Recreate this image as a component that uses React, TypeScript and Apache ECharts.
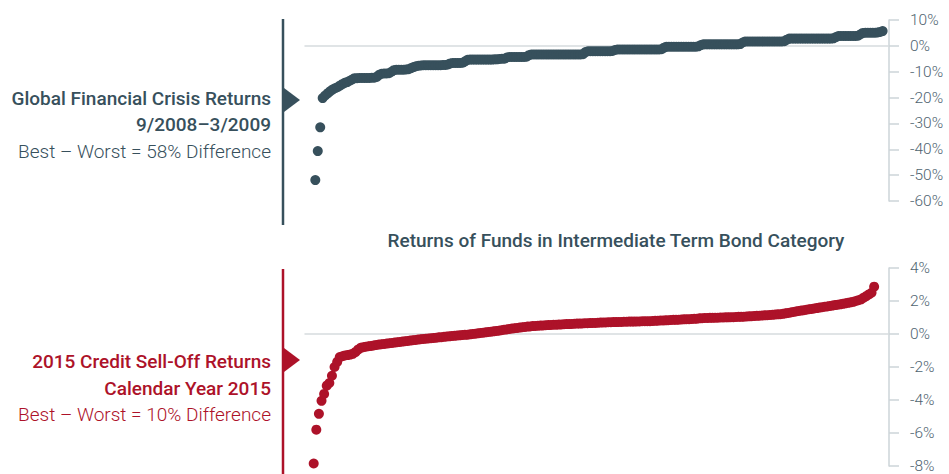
import React, { useEffect, useRef } from "react";
import * as echarts from "echarts";

// Sorted fund returns (%), Global Financial Crisis 9/2008–3/2009
const gfcReturns = [
  -51.9, -40.7, -31.5, -20.2,
  -19.2, -18.4, -17.6, -16.9, -16.4, -16.0, -15.4, -14.8, -14.3, -14.0, -13.5, -13.0,
  -12.5, -12.5, -12.4, -12.4, -12.4, -12.4, -12.4, -12.3, -12.3, -12.0,
  -11.2, -10.8, -10.7, -10.7, -10.6,
  -10.0,
  -9.4, -9.2, -9.2, -9.2, -9.2, -9.1, -9.0,
  -8.6, -8.2, -7.9, -7.7,
  -7.6, -7.5, -7.5, -7.5, -7.5, -7.5, -7.5, -7.5, -7.5, -7.4, -7.4, -7.2,
  -6.8, -6.6, -6.6, -6.6, -6.6, -6.5,
  -6.0,
  -5.4, -5.3, -5.3, -5.3, -5.3, -5.3, -5.3, -5.3, -5.3, -5.3, -5.3, -5.2, -5.2, -5.1, -5.0, -5.0,
  -4.5, -4.3, -4.3, -4.3, -4.3, -4.3, -4.3, -4.3, -4.2,
  -3.6, -3.3, -3.3, -3.3, -3.3, -3.3, -3.3, -3.3, -3.3, -3.3, -3.3, -3.3, -3.3, -3.3, -3.3, -3.3, -3.3, -3.3, -3.3, -3.3, -3.3, -3.3, -3.2,
  -2.4, -2.1, -2.1, -2.1, -2.1, -2.1, -2.1, -2.1, -2.1, -2.1, -2.1, -2.0,
  -1.6, -1.4, -1.4, -1.4, -1.4, -1.4, -1.4, -1.4, -1.4, -1.4, -1.4, -1.4, -1.4, -1.4, -1.4, -1.4, -1.4, -1.4, -1.4, -1.3,
  -0.7, -0.3, -0.3, -0.3, -0.3, -0.3, -0.3, -0.3, -0.3, -0.3, -0.3, -0.3, -0.3, -0.3, -0.2,
  0.3, 0.6, 0.6, 0.6, 0.6, 0.6, 0.6, 0.6, 0.6, 0.6, 0.6, 0.6, 0.6, 0.6, 0.6, 0.6, 0.7,
  1.3, 1.7, 1.7, 1.7, 1.7, 1.7, 1.7, 1.7, 1.7, 1.7, 1.7, 1.7, 1.7, 1.7, 1.7, 1.7, 1.7, 1.8,
  2.4, 2.8, 2.8, 2.8, 2.8, 2.8, 2.8, 2.8, 2.8, 2.8, 2.8, 2.8, 2.8, 2.8, 2.8, 2.8, 2.8, 2.8, 2.8, 2.9,
  3.4, 3.8, 3.8, 3.8, 3.8, 3.8, 3.8, 3.8, 3.8, 3.9,
  4.5,
  5.0, 5.1, 5.1, 5.1, 5.1, 5.1, 5.2,
  5.4, 5.7,
];

// Sorted fund returns (%), calendar year 2015
const creditReturns = [
  -7.85, -5.8, -4.84, -4.05, -3.63, -3.13, -2.97, -2.53, -2.0, -1.69, -1.4,
  -1.35, -1.3, -1.28, -1.25, -1.2, -1.1, -0.95,
  -0.84,
  -0.8, -0.77, -0.74, -0.72, -0.69, -0.66, -0.64, -0.62, -0.6, -0.58, -0.56, -0.54, -0.52, -0.5, -0.48,
  -0.46, -0.44, -0.42, -0.4, -0.38, -0.36, -0.34, -0.32, -0.3, -0.29, -0.27, -0.26, -0.24,
  -0.22, -0.2, -0.19, -0.17, -0.15, -0.14, -0.12, -0.11, -0.09, -0.08, -0.06, -0.05, -0.04,
  -0.02, 0, 0.02, 0.04, 0.06, 0.08, 0.1, 0.12, 0.14, 0.16, 0.18, 0.2, 0.23,
  0.26, 0.28, 0.31, 0.33, 0.35, 0.37, 0.39, 0.41, 0.43, 0.45, 0.46, 0.48,
  0.49, 0.5, 0.51, 0.52, 0.53, 0.54, 0.55, 0.56, 0.56, 0.57, 0.58, 0.59, 0.6, 0.6, 0.61,
  0.62, 0.63, 0.63, 0.64, 0.65, 0.65, 0.66, 0.67, 0.67, 0.68, 0.69,
  0.7, 0.7, 0.71, 0.71, 0.72, 0.72, 0.73, 0.73, 0.74, 0.74, 0.75, 0.75, 0.75, 0.76, 0.76, 0.77, 0.77, 0.78, 0.78,
  0.79, 0.8, 0.81, 0.82, 0.82, 0.83, 0.84, 0.85, 0.86, 0.86, 0.87, 0.88, 0.89, 0.9, 0.9, 0.91, 0.92, 0.93, 0.95,
  0.96, 0.97, 0.97, 0.98, 0.98, 0.99, 0.99, 1.0, 1.0, 1.01, 1.01, 1.02, 1.02, 1.03, 1.04, 1.04, 1.05, 1.06, 1.07,
  1.08, 1.09, 1.1, 1.11, 1.12, 1.13, 1.14, 1.15, 1.16, 1.18, 1.19, 1.2, 1.22,
  1.25, 1.28, 1.31, 1.34, 1.37, 1.4, 1.42, 1.44, 1.47, 1.5, 1.52, 1.55,
  1.57, 1.6, 1.62, 1.65, 1.67, 1.7, 1.72, 1.75,
  1.78, 1.8, 1.83, 1.86, 1.89, 1.92, 1.95,
  2.0, 2.05, 2.1,
  2.2, 2.3, 2.4, 2.5,
  2.87,
];

const chartTitle = "Returns of Funds in Intermediate Term Bond Category";
const gfcLabels = ["Global Financial Crisis Returns", "9/2008–3/2009", "Best – Worst = 58% Difference"];
const creditLabels = ["2015 Credit Sell-Off Returns", "Calendar Year 2015", "Best – Worst = 10% Difference"];

const SLATE = "#37505c";
const RED = "#ad1229";
const AXIS_GREY = "#cdd4d9";
const LABEL_GREY = "#4f6470";
const FONT = 'Roboto, "Liberation Sans", sans-serif';

export default function App() {
  const ref = useRef<HTMLDivElement>(null);

  useEffect(() => {
    if (!ref.current) return;
    const chart = echarts.init(ref.current, undefined, { renderer: "svg" });

    const yAxisCommon = (min: number, max: number, interval: number, gridIndex: number) => ({
      type: "value",
      gridIndex,
      position: "right",
      min,
      max,
      interval,
      axisLine: { show: true, onZero: false, lineStyle: { color: AXIS_GREY, width: 1.5 } },
      axisTick: { show: true, inside: false, length: 10, lineStyle: { color: AXIS_GREY, width: 1.5 } },
      splitLine: { show: false },
      axisLabel: {
        margin: 21,
        color: LABEL_GREY,
        fontFamily: FONT,
        fontSize: 15.5,
        fontWeight: 300,
        formatter: "{value}%",
      },
    });

    const xAxisCommon = (min: number, max: number, gridIndex: number) => ({
      type: "value",
      gridIndex,
      min,
      max,
      axisLine: { show: true, onZero: true, lineStyle: { color: "#d6dbde", width: 1.5 } },
      axisTick: { show: false },
      axisLabel: { show: false },
      splitLine: { show: false },
    });

    const textEl = (text: string, x: number, y: number, color: string, weight: number, size = 19, align = "right") => ({
      type: "text",
      x,
      y,
      silent: true,
      style: {
        text,
        fill: color,
        font: `${weight} ${size}px ${FONT}`,
        align,
        verticalAlign: "middle",
      },
    });

    chart.setOption({
      animation: false,
      grid: [
        { left: 305, right: 60, top: 20, height: 181, outerBoundsMode: "none", containLabel: false },
        { left: 305, right: 60, top: 268, height: 198, outerBoundsMode: "none", containLabel: false },
      ],
      xAxis: [xAxisCommon(-4.2, 233.6, 0), xAxisCommon(-3.34, 220.7, 1)],
      yAxis: [yAxisCommon(-60, 10, 10, 0), yAxisCommon(-8, 4, 2, 1)],
      series: [
        {
          type: "scatter",
          xAxisIndex: 0,
          yAxisIndex: 0,
          symbolSize: 10,
          silent: true,
          itemStyle: { color: SLATE, opacity: 1 },
          data: gfcReturns.map((v, i) => [i, v]),
        },
        {
          type: "scatter",
          xAxisIndex: 1,
          yAxisIndex: 1,
          symbolSize: 10,
          silent: true,
          itemStyle: { color: RED, opacity: 1 },
          data: creditReturns.map((v, i) => [i, v]),
        },
      ],
      graphic: [
        { type: "line", silent: true, shape: { x1: 283, y1: 19, x2: 283, y2: 225 }, style: { stroke: SLATE, lineWidth: 2.5 } },
        { type: "polygon", silent: true, shape: { points: [[284, 88], [300, 100], [284, 112]] }, style: { fill: SLATE } },
        { type: "line", silent: true, shape: { x1: 283, y1: 269, x2: 283, y2: 474 }, style: { stroke: RED, lineWidth: 2.5 } },
        { type: "polygon", silent: true, shape: { points: [[284, 348], [300, 360], [284, 372]] }, style: { fill: RED } },
        textEl(gfcLabels[0], 271, 98.5, SLATE, 500),
        textEl(gfcLabels[1], 271, 124.5, SLATE, 500),
        textEl(gfcLabels[2], 271, 151, SLATE, 300),
        textEl(creditLabels[0], 271, 361, RED, 500),
        textEl(creditLabels[1], 271, 388, RED, 500),
        textEl(creditLabels[2], 271, 414.5, RED, 300),
        textEl(chartTitle, 616, 240.5, SLATE, 500, 19, "center"),
      ],
    });

    return () => chart.dispose();
  }, []);

  return (
    <div
      ref={ref}
      style={{ position: "fixed", left: 0, top: 0, width: 949, height: 474, background: "#fff" }}
    />
  );
}
